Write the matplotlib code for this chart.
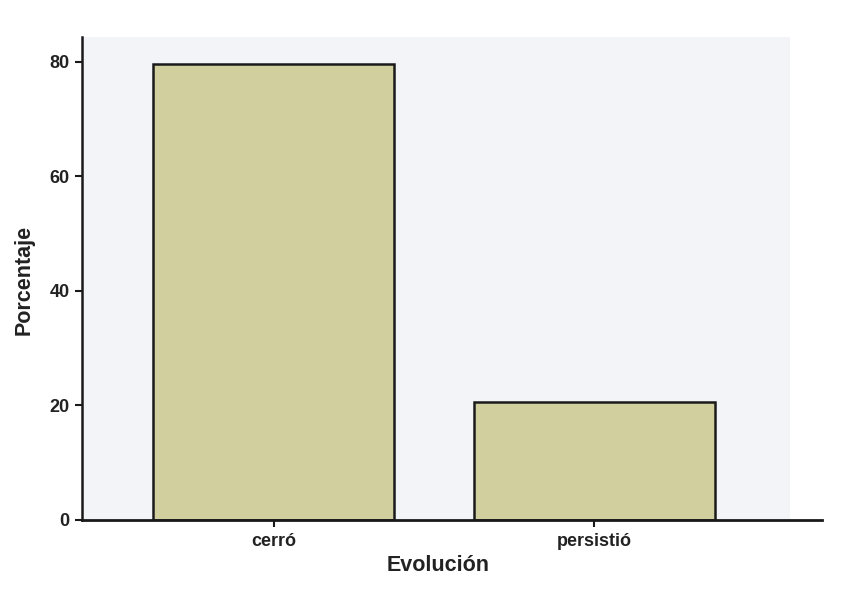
import matplotlib
matplotlib.use("Agg")
import matplotlib.pyplot as plt
from matplotlib.patches import Rectangle

categories = ["cerró", "persistió"]
values = [79.6, 20.6]
yticks = [0, 20, 40, 60, 80]

plt.rcParams['font.family'] = ['Liberation Sans', 'DejaVu Sans']

fig = plt.figure(figsize=(8.54, 6.08), dpi=100)
W, H = 854, 608
ax = fig.add_axes([82 / W, 1 - 520 / H, (822 - 82) / W, (520 - 37) / H])
ax.set_facecolor("white")

x = list(range(len(categories)))
ax.set_xlim(-0.597, 1.709)
ax.set_ylim(0, 84.3)

# gray plot area background
ax.add_patch(Rectangle((-0.597, 0), 1.609 + 0.597, 84.3, facecolor="#f3f4f7",
                       edgecolor="none", zorder=0))

ax.bar(x, values, width=0.75, color="#d2cf9f", edgecolor="#1a1a1a",
       linewidth=1.8, zorder=2)

ax.set_xticks(x)
ax.set_xticklabels(categories, fontsize=13, fontweight="bold", color="#222222")
ax.set_yticks(yticks)
ax.set_yticklabels([str(v) for v in yticks], fontsize=13, fontweight="bold",
                   color="#222222")

for s in ["top", "right"]:
    ax.spines[s].set_visible(False)
ax.spines["left"].set_linewidth(1.8)
ax.spines["bottom"].set_linewidth(2.0)
ax.spines["left"].set_color("#1a1a1a")
ax.spines["bottom"].set_color("#1a1a1a")
ax.tick_params(axis="both", length=5, width=1.5, color="#1a1a1a", pad=4)

ax.set_xlabel("Evolución", fontsize=15.5, fontweight="bold", color="#222222")
ax.xaxis.set_label_coords((438 - 82) / (822 - 82), -(555 - 520) / (520 - 37))
ax.set_ylabel("Porcentaje", fontsize=15.5, fontweight="bold", color="#222222")
ax.yaxis.set_label_coords(-(82 - 35) / (822 - 82), (520 - 280) / (520 - 37))

fig.savefig("out.png", dpi=100)
